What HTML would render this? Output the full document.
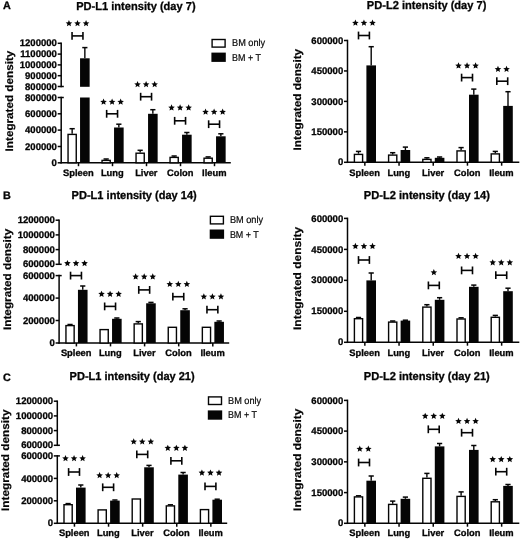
<!DOCTYPE html>
<html>
<head>
<meta charset="utf-8">
<title>PD-L1 / PD-L2 intensity</title>
<style>
html, body { margin: 0; padding: 0; background: #ffffff; }
body { width: 520px; height: 540px; overflow: hidden; font-family: "Liberation Sans", sans-serif; }
svg { display: block; font-family: "Liberation Sans", sans-serif; will-change: transform; text-rendering: geometricPrecision; }
</style>
</head>
<body>
<svg width="520" height="540" viewBox="0 0 520 540">
<rect x="0" y="0" width="520" height="540" fill="#ffffff"/>
<line x1="61.2" y1="42.55" x2="61.2" y2="87.25" stroke="#050505" stroke-width="1.5"/>
<line x1="57.7" y1="43.3" x2="61.2" y2="43.3" stroke="#050505" stroke-width="1.5"/>
<text x="56.9" y="46.4" font-size="9.55" font-weight="bold" text-anchor="end" fill="#050505" stroke="#050505" stroke-width="0.3">1200000</text>
<line x1="57.7" y1="54.1" x2="61.2" y2="54.1" stroke="#050505" stroke-width="1.5"/>
<text x="56.9" y="57.2" font-size="9.55" font-weight="bold" text-anchor="end" fill="#050505" stroke="#050505" stroke-width="0.3">1100000</text>
<line x1="57.7" y1="64.9" x2="61.2" y2="64.9" stroke="#050505" stroke-width="1.5"/>
<text x="56.9" y="68" font-size="9.55" font-weight="bold" text-anchor="end" fill="#050505" stroke="#050505" stroke-width="0.3">1000000</text>
<line x1="57.7" y1="75.7" x2="61.2" y2="75.7" stroke="#050505" stroke-width="1.5"/>
<text x="56.9" y="78.8" font-size="9.55" font-weight="bold" text-anchor="end" fill="#050505" stroke="#050505" stroke-width="0.3">900000</text>
<line x1="57.7" y1="86.5" x2="63.8" y2="86.5" stroke="#050505" stroke-width="1.5"/>
<text x="56.9" y="89.6" font-size="9.55" font-weight="bold" text-anchor="end" fill="#050505" stroke="#050505" stroke-width="0.3">800000</text>
<line x1="61.2" y1="96.75" x2="61.2" y2="163.55" stroke="#050505" stroke-width="1.5"/>
<line x1="57.7" y1="97.5" x2="63.8" y2="97.5" stroke="#050505" stroke-width="1.5"/>
<text x="56.9" y="100.6" font-size="9.55" font-weight="bold" text-anchor="end" fill="#050505" stroke="#050505" stroke-width="0.3">800000</text>
<line x1="57.7" y1="113.8" x2="61.2" y2="113.8" stroke="#050505" stroke-width="1.5"/>
<text x="56.9" y="116.9" font-size="9.55" font-weight="bold" text-anchor="end" fill="#050505" stroke="#050505" stroke-width="0.3">600000</text>
<line x1="57.7" y1="130.1" x2="61.2" y2="130.1" stroke="#050505" stroke-width="1.5"/>
<text x="56.9" y="133.2" font-size="9.55" font-weight="bold" text-anchor="end" fill="#050505" stroke="#050505" stroke-width="0.3">400000</text>
<line x1="57.7" y1="146.5" x2="61.2" y2="146.5" stroke="#050505" stroke-width="1.5"/>
<text x="56.9" y="149.6" font-size="9.55" font-weight="bold" text-anchor="end" fill="#050505" stroke="#050505" stroke-width="0.3">200000</text>
<line x1="57.7" y1="162.8" x2="61.2" y2="162.8" stroke="#050505" stroke-width="1.5"/>
<text x="56.9" y="165.9" font-size="9.55" font-weight="bold" text-anchor="end" fill="#050505" stroke="#050505" stroke-width="0.3">0</text>
<line x1="60.55" y1="162.8" x2="230.8" y2="162.8" stroke="#050505" stroke-width="1.5"/>
<line x1="78.5" y1="162.8" x2="78.5" y2="166.2" stroke="#050505" stroke-width="1.5"/>
<text x="78.3" y="176" font-size="9.35" font-weight="bold" text-anchor="middle" fill="#050505" stroke="#050505" stroke-width="0.3">Spleen</text>
<line x1="72.15" y1="128.7" x2="72.15" y2="133.7" stroke="#050505" stroke-width="1.4"/>
<line x1="69.55" y1="128.7" x2="74.75" y2="128.7" stroke="#050505" stroke-width="1.5"/>
<line x1="84.85" y1="47.6" x2="84.85" y2="58.3" stroke="#050505" stroke-width="1.4"/>
<line x1="82.25" y1="47.6" x2="87.45" y2="47.6" stroke="#050505" stroke-width="1.5"/>
<rect x="68.05" y="134.4" width="8.2" height="28.4" fill="#fff" stroke="#050505" stroke-width="1.4"/>
<rect x="80.05" y="97.5" width="9.6" height="65.3" fill="#050505"/>
<rect x="80.05" y="58.3" width="9.6" height="28.5" fill="#050505"/>
<polygon points="68.95,20.05 69.89,22.21 72.23,22.43 70.47,23.99 70.98,26.29 68.95,25.1 66.92,26.29 67.43,23.99 65.67,22.43 68.01,22.21" fill="#050505"/>
<polygon points="77.5,20.05 78.44,22.21 80.78,22.43 79.02,23.99 79.53,26.29 77.5,25.1 75.47,26.29 75.98,23.99 74.22,22.43 76.56,22.21" fill="#050505"/>
<polygon points="86.05,20.05 86.99,22.21 89.33,22.43 87.57,23.99 88.08,26.29 86.05,25.1 84.02,26.29 84.53,23.99 82.77,22.43 85.11,22.21" fill="#050505"/>
<line x1="72.05" y1="35.9" x2="82.95" y2="35.9" stroke="#050505" stroke-width="1.6"/>
<line x1="72.05" y1="32" x2="72.05" y2="39.8" stroke="#050505" stroke-width="1.6"/>
<line x1="82.95" y1="32" x2="82.95" y2="39.8" stroke="#050505" stroke-width="1.6"/>
<line x1="112.5" y1="162.8" x2="112.5" y2="166.2" stroke="#050505" stroke-width="1.5"/>
<text x="112.3" y="176" font-size="9.35" font-weight="bold" text-anchor="middle" fill="#050505" stroke="#050505" stroke-width="0.3">Lung</text>
<line x1="106.15" y1="159" x2="106.15" y2="159.7" stroke="#050505" stroke-width="1.4"/>
<line x1="103.55" y1="159" x2="108.75" y2="159" stroke="#050505" stroke-width="1.5"/>
<line x1="118.85" y1="124.2" x2="118.85" y2="127.5" stroke="#050505" stroke-width="1.4"/>
<line x1="116.25" y1="124.2" x2="121.45" y2="124.2" stroke="#050505" stroke-width="1.5"/>
<rect x="102.05" y="160.4" width="8.2" height="2.4" fill="#fff" stroke="#050505" stroke-width="1.4"/>
<rect x="114.05" y="127.5" width="9.6" height="35.3" fill="#050505"/>
<polygon points="103.55,98.55 104.49,100.71 106.83,100.93 105.07,102.49 105.58,104.79 103.55,103.6 101.52,104.79 102.03,102.49 100.27,100.93 102.61,100.71" fill="#050505"/>
<polygon points="112.1,98.55 113.04,100.71 115.38,100.93 113.62,102.49 114.13,104.79 112.1,103.6 110.07,104.79 110.58,102.49 108.82,100.93 111.16,100.71" fill="#050505"/>
<polygon points="120.65,98.55 121.59,100.71 123.93,100.93 122.17,102.49 122.68,104.79 120.65,103.6 118.62,104.79 119.13,102.49 117.37,100.93 119.71,100.71" fill="#050505"/>
<line x1="106.65" y1="113.8" x2="117.55" y2="113.8" stroke="#050505" stroke-width="1.6"/>
<line x1="106.65" y1="109.9" x2="106.65" y2="117.7" stroke="#050505" stroke-width="1.6"/>
<line x1="117.55" y1="109.9" x2="117.55" y2="117.7" stroke="#050505" stroke-width="1.6"/>
<line x1="146.5" y1="162.8" x2="146.5" y2="166.2" stroke="#050505" stroke-width="1.5"/>
<text x="146.3" y="176" font-size="9.35" font-weight="bold" text-anchor="middle" fill="#050505" stroke="#050505" stroke-width="0.3">Liver</text>
<line x1="140.15" y1="150.3" x2="140.15" y2="152.5" stroke="#050505" stroke-width="1.4"/>
<line x1="137.55" y1="150.3" x2="142.75" y2="150.3" stroke="#050505" stroke-width="1.5"/>
<line x1="152.85" y1="109.7" x2="152.85" y2="113.8" stroke="#050505" stroke-width="1.4"/>
<line x1="150.25" y1="109.7" x2="155.45" y2="109.7" stroke="#050505" stroke-width="1.5"/>
<rect x="136.05" y="153.2" width="8.2" height="9.6" fill="#fff" stroke="#050505" stroke-width="1.4"/>
<rect x="148.05" y="113.8" width="9.6" height="49" fill="#050505"/>
<polygon points="137.55,81.05 138.49,83.21 140.83,83.43 139.07,84.99 139.58,87.29 137.55,86.1 135.52,87.29 136.03,84.99 134.27,83.43 136.61,83.21" fill="#050505"/>
<polygon points="146.1,81.05 147.04,83.21 149.38,83.43 147.62,84.99 148.13,87.29 146.1,86.1 144.07,87.29 144.58,84.99 142.82,83.43 145.16,83.21" fill="#050505"/>
<polygon points="154.65,81.05 155.59,83.21 157.93,83.43 156.17,84.99 156.68,87.29 154.65,86.1 152.62,87.29 153.13,84.99 151.37,83.43 153.71,83.21" fill="#050505"/>
<line x1="140.65" y1="96.7" x2="151.55" y2="96.7" stroke="#050505" stroke-width="1.6"/>
<line x1="140.65" y1="92.8" x2="140.65" y2="100.6" stroke="#050505" stroke-width="1.6"/>
<line x1="151.55" y1="92.8" x2="151.55" y2="100.6" stroke="#050505" stroke-width="1.6"/>
<line x1="180.5" y1="162.8" x2="180.5" y2="166.2" stroke="#050505" stroke-width="1.5"/>
<text x="180.3" y="176" font-size="9.35" font-weight="bold" text-anchor="middle" fill="#050505" stroke="#050505" stroke-width="0.3">Colon</text>
<line x1="174.15" y1="156" x2="174.15" y2="156.7" stroke="#050505" stroke-width="1.4"/>
<line x1="171.55" y1="156" x2="176.75" y2="156" stroke="#050505" stroke-width="1.5"/>
<line x1="186.85" y1="132.5" x2="186.85" y2="134.7" stroke="#050505" stroke-width="1.4"/>
<line x1="184.25" y1="132.5" x2="189.45" y2="132.5" stroke="#050505" stroke-width="1.5"/>
<rect x="170.05" y="157.4" width="8.2" height="5.4" fill="#fff" stroke="#050505" stroke-width="1.4"/>
<rect x="182.05" y="134.7" width="9.6" height="28.1" fill="#050505"/>
<polygon points="171.55,104.35 172.49,106.51 174.83,106.73 173.07,108.29 173.58,110.59 171.55,109.4 169.52,110.59 170.03,108.29 168.27,106.73 170.61,106.51" fill="#050505"/>
<polygon points="180.1,104.35 181.04,106.51 183.38,106.73 181.62,108.29 182.13,110.59 180.1,109.4 178.07,110.59 178.58,108.29 176.82,106.73 179.16,106.51" fill="#050505"/>
<polygon points="188.65,104.35 189.59,106.51 191.93,106.73 190.17,108.29 190.68,110.59 188.65,109.4 186.62,110.59 187.13,108.29 185.37,106.73 187.71,106.51" fill="#050505"/>
<line x1="174.65" y1="120.8" x2="185.55" y2="120.8" stroke="#050505" stroke-width="1.6"/>
<line x1="174.65" y1="116.9" x2="174.65" y2="124.7" stroke="#050505" stroke-width="1.6"/>
<line x1="185.55" y1="116.9" x2="185.55" y2="124.7" stroke="#050505" stroke-width="1.6"/>
<line x1="214.5" y1="162.8" x2="214.5" y2="166.2" stroke="#050505" stroke-width="1.5"/>
<text x="214.3" y="176" font-size="9.35" font-weight="bold" text-anchor="middle" fill="#050505" stroke="#050505" stroke-width="0.3">Ileum</text>
<line x1="208.15" y1="156.9" x2="208.15" y2="157.5" stroke="#050505" stroke-width="1.4"/>
<line x1="205.55" y1="156.9" x2="210.75" y2="156.9" stroke="#050505" stroke-width="1.5"/>
<line x1="220.85" y1="133.8" x2="220.85" y2="136.3" stroke="#050505" stroke-width="1.4"/>
<line x1="218.25" y1="133.8" x2="223.45" y2="133.8" stroke="#050505" stroke-width="1.5"/>
<rect x="204.05" y="158.2" width="8.2" height="4.6" fill="#fff" stroke="#050505" stroke-width="1.4"/>
<rect x="216.05" y="136.3" width="9.6" height="26.5" fill="#050505"/>
<polygon points="205.55,108.55 206.49,110.71 208.83,110.93 207.07,112.49 207.58,114.79 205.55,113.6 203.52,114.79 204.03,112.49 202.27,110.93 204.61,110.71" fill="#050505"/>
<polygon points="214.1,108.55 215.04,110.71 217.38,110.93 215.62,112.49 216.13,114.79 214.1,113.6 212.07,114.79 212.58,112.49 210.82,110.93 213.16,110.71" fill="#050505"/>
<polygon points="222.65,108.55 223.59,110.71 225.93,110.93 224.17,112.49 224.68,114.79 222.65,113.6 220.62,114.79 221.13,112.49 219.37,110.93 221.71,110.71" fill="#050505"/>
<line x1="208.65" y1="124.2" x2="219.55" y2="124.2" stroke="#050505" stroke-width="1.6"/>
<line x1="208.65" y1="120.3" x2="208.65" y2="128.1" stroke="#050505" stroke-width="1.6"/>
<line x1="219.55" y1="120.3" x2="219.55" y2="128.1" stroke="#050505" stroke-width="1.6"/>
<text x="76.2" y="9.5" font-size="11.5" font-weight="bold" text-anchor="start" fill="#050505" stroke="#050505" stroke-width="0.3" textLength="119.4" lengthAdjust="spacingAndGlyphs">PD-L1 intensity (day 7)</text>
<text transform="translate(12.7 151.4) rotate(-90)" font-size="10.9" font-weight="bold" stroke="#050505" stroke-width="0.2" fill="#050505" textLength="100.7" lengthAdjust="spacingAndGlyphs">Integrated density</text>
<text x="3" y="9.4" font-size="10.8" font-weight="bold" text-anchor="start" fill="#050505" stroke="#050505" stroke-width="0.3">A</text>
<rect x="212.1" y="39.5" width="13" height="7.6" fill="#fff" stroke="#050505" stroke-width="1.4"/>
<rect x="211.4" y="52.6" width="14.4" height="9.3" fill="#050505"/>
<text x="232" y="46.3" font-size="10" font-weight="normal" text-anchor="start" fill="#050505" textLength="33.2" lengthAdjust="spacingAndGlyphs" stroke="#050505" stroke-width="0.2">BM only</text>
<text x="232" y="60.5" font-size="10" font-weight="normal" text-anchor="start" fill="#050505" textLength="28.9" lengthAdjust="spacingAndGlyphs" stroke="#050505" stroke-width="0.2">BM + T</text>
<line x1="347.5" y1="39.75" x2="347.5" y2="163.05" stroke="#050505" stroke-width="1.5"/>
<line x1="344" y1="40.5" x2="347.5" y2="40.5" stroke="#050505" stroke-width="1.5"/>
<text x="343.2" y="43.6" font-size="9.55" font-weight="bold" text-anchor="end" fill="#050505" stroke="#050505" stroke-width="0.3">600000</text>
<line x1="344" y1="70.95" x2="347.5" y2="70.95" stroke="#050505" stroke-width="1.5"/>
<text x="343.2" y="74.05" font-size="9.55" font-weight="bold" text-anchor="end" fill="#050505" stroke="#050505" stroke-width="0.3">450000</text>
<line x1="344" y1="101.4" x2="347.5" y2="101.4" stroke="#050505" stroke-width="1.5"/>
<text x="343.2" y="104.5" font-size="9.55" font-weight="bold" text-anchor="end" fill="#050505" stroke="#050505" stroke-width="0.3">300000</text>
<line x1="344" y1="131.85" x2="347.5" y2="131.85" stroke="#050505" stroke-width="1.5"/>
<text x="343.2" y="134.95" font-size="9.55" font-weight="bold" text-anchor="end" fill="#050505" stroke="#050505" stroke-width="0.3">150000</text>
<line x1="344" y1="162.3" x2="347.5" y2="162.3" stroke="#050505" stroke-width="1.5"/>
<text x="343.2" y="165.4" font-size="9.55" font-weight="bold" text-anchor="end" fill="#050505" stroke="#050505" stroke-width="0.3">0</text>
<line x1="346.85" y1="162.3" x2="519.3" y2="162.3" stroke="#050505" stroke-width="1.5"/>
<line x1="364.85" y1="162.3" x2="364.85" y2="165.7" stroke="#050505" stroke-width="1.5"/>
<text x="364.65" y="176" font-size="9.35" font-weight="bold" text-anchor="middle" fill="#050505" stroke="#050505" stroke-width="0.3">Spleen</text>
<line x1="358.5" y1="151.4" x2="358.5" y2="153.7" stroke="#050505" stroke-width="1.4"/>
<line x1="355.9" y1="151.4" x2="361.1" y2="151.4" stroke="#050505" stroke-width="1.5"/>
<line x1="371.2" y1="46.7" x2="371.2" y2="65.4" stroke="#050505" stroke-width="1.4"/>
<line x1="368.6" y1="46.7" x2="373.8" y2="46.7" stroke="#050505" stroke-width="1.5"/>
<rect x="354.4" y="154.4" width="8.2" height="7.9" fill="#fff" stroke="#050505" stroke-width="1.4"/>
<rect x="366.4" y="65.4" width="9.6" height="96.9" fill="#050505"/>
<polygon points="355.4,19.55 356.34,21.71 358.68,21.93 356.92,23.49 357.43,25.79 355.4,24.6 353.37,25.79 353.88,23.49 352.12,21.93 354.46,21.71" fill="#050505"/>
<polygon points="363.95,19.55 364.89,21.71 367.23,21.93 365.47,23.49 365.98,25.79 363.95,24.6 361.92,25.79 362.43,23.49 360.67,21.93 363.01,21.71" fill="#050505"/>
<polygon points="372.5,19.55 373.44,21.71 375.78,21.93 374.02,23.49 374.53,25.79 372.5,24.6 370.47,25.79 370.98,23.49 369.22,21.93 371.56,21.71" fill="#050505"/>
<line x1="358.5" y1="35.5" x2="369.4" y2="35.5" stroke="#050505" stroke-width="1.6"/>
<line x1="358.5" y1="31.6" x2="358.5" y2="39.4" stroke="#050505" stroke-width="1.6"/>
<line x1="369.4" y1="31.6" x2="369.4" y2="39.4" stroke="#050505" stroke-width="1.6"/>
<line x1="399.05" y1="162.3" x2="399.05" y2="165.7" stroke="#050505" stroke-width="1.5"/>
<text x="398.85" y="176" font-size="9.35" font-weight="bold" text-anchor="middle" fill="#050505" stroke="#050505" stroke-width="0.3">Lung</text>
<line x1="392.7" y1="152.7" x2="392.7" y2="154.4" stroke="#050505" stroke-width="1.4"/>
<line x1="390.1" y1="152.7" x2="395.3" y2="152.7" stroke="#050505" stroke-width="1.5"/>
<line x1="405.4" y1="147.1" x2="405.4" y2="150" stroke="#050505" stroke-width="1.4"/>
<line x1="402.8" y1="147.1" x2="408" y2="147.1" stroke="#050505" stroke-width="1.5"/>
<rect x="388.6" y="155.1" width="8.2" height="7.2" fill="#fff" stroke="#050505" stroke-width="1.4"/>
<rect x="400.6" y="150" width="9.6" height="12.3" fill="#050505"/>
<line x1="433.25" y1="162.3" x2="433.25" y2="165.7" stroke="#050505" stroke-width="1.5"/>
<text x="433.05" y="176" font-size="9.35" font-weight="bold" text-anchor="middle" fill="#050505" stroke="#050505" stroke-width="0.3">Liver</text>
<line x1="426.9" y1="157.8" x2="426.9" y2="158.7" stroke="#050505" stroke-width="1.4"/>
<line x1="424.3" y1="157.8" x2="429.5" y2="157.8" stroke="#050505" stroke-width="1.5"/>
<line x1="439.6" y1="157" x2="439.6" y2="157.8" stroke="#050505" stroke-width="1.4"/>
<line x1="437" y1="157" x2="442.2" y2="157" stroke="#050505" stroke-width="1.5"/>
<rect x="422.8" y="159.4" width="8.2" height="2.9" fill="#fff" stroke="#050505" stroke-width="1.4"/>
<rect x="434.8" y="157.8" width="9.6" height="4.5" fill="#050505"/>
<line x1="467.45" y1="162.3" x2="467.45" y2="165.7" stroke="#050505" stroke-width="1.5"/>
<text x="467.25" y="176" font-size="9.35" font-weight="bold" text-anchor="middle" fill="#050505" stroke="#050505" stroke-width="0.3">Colon</text>
<line x1="461.1" y1="147.6" x2="461.1" y2="150.2" stroke="#050505" stroke-width="1.4"/>
<line x1="458.5" y1="147.6" x2="463.7" y2="147.6" stroke="#050505" stroke-width="1.5"/>
<line x1="473.8" y1="89.1" x2="473.8" y2="94.7" stroke="#050505" stroke-width="1.4"/>
<line x1="471.2" y1="89.1" x2="476.4" y2="89.1" stroke="#050505" stroke-width="1.5"/>
<rect x="457" y="150.9" width="8.2" height="11.4" fill="#fff" stroke="#050505" stroke-width="1.4"/>
<rect x="469" y="94.7" width="9.6" height="67.6" fill="#050505"/>
<polygon points="458.5,62.35 459.44,64.51 461.78,64.73 460.02,66.29 460.53,68.59 458.5,67.4 456.47,68.59 456.98,66.29 455.22,64.73 457.56,64.51" fill="#050505"/>
<polygon points="467.05,62.35 467.99,64.51 470.33,64.73 468.57,66.29 469.08,68.59 467.05,67.4 465.02,68.59 465.53,66.29 463.77,64.73 466.11,64.51" fill="#050505"/>
<polygon points="475.6,62.35 476.54,64.51 478.88,64.73 477.12,66.29 477.63,68.59 475.6,67.4 473.57,68.59 474.08,66.29 472.32,64.73 474.66,64.51" fill="#050505"/>
<line x1="461.6" y1="77.6" x2="472.5" y2="77.6" stroke="#050505" stroke-width="1.6"/>
<line x1="461.6" y1="73.7" x2="461.6" y2="81.5" stroke="#050505" stroke-width="1.6"/>
<line x1="472.5" y1="73.7" x2="472.5" y2="81.5" stroke="#050505" stroke-width="1.6"/>
<line x1="501.65" y1="162.3" x2="501.65" y2="165.7" stroke="#050505" stroke-width="1.5"/>
<text x="501.45" y="176" font-size="9.35" font-weight="bold" text-anchor="middle" fill="#050505" stroke="#050505" stroke-width="0.3">Ileum</text>
<line x1="495.3" y1="151.4" x2="495.3" y2="153.2" stroke="#050505" stroke-width="1.4"/>
<line x1="492.7" y1="151.4" x2="497.9" y2="151.4" stroke="#050505" stroke-width="1.5"/>
<line x1="508" y1="91.7" x2="508" y2="105.9" stroke="#050505" stroke-width="1.4"/>
<line x1="505.4" y1="91.7" x2="510.6" y2="91.7" stroke="#050505" stroke-width="1.5"/>
<rect x="491.2" y="153.9" width="8.2" height="8.4" fill="#fff" stroke="#050505" stroke-width="1.4"/>
<rect x="503.2" y="105.9" width="9.6" height="56.4" fill="#050505"/>
<polygon points="497.98,65.75 498.92,67.91 501.26,68.13 499.5,69.69 500,71.99 497.98,70.8 495.95,71.99 496.45,69.69 494.69,68.13 497.03,67.91" fill="#050505"/>
<polygon points="506.53,65.75 507.47,67.91 509.81,68.13 508.05,69.69 508.55,71.99 506.53,70.8 504.5,71.99 505,69.69 503.24,68.13 505.58,67.91" fill="#050505"/>
<line x1="496.8" y1="81.2" x2="507.7" y2="81.2" stroke="#050505" stroke-width="1.6"/>
<line x1="496.8" y1="77.3" x2="496.8" y2="85.1" stroke="#050505" stroke-width="1.6"/>
<line x1="507.7" y1="77.3" x2="507.7" y2="85.1" stroke="#050505" stroke-width="1.6"/>
<text x="366.8" y="9.4" font-size="11.5" font-weight="bold" text-anchor="start" fill="#050505" stroke="#050505" stroke-width="0.3" textLength="119.6" lengthAdjust="spacingAndGlyphs">PD-L2 intensity (day 7)</text>
<text transform="translate(300.6 150.5) rotate(-90)" font-size="10.9" font-weight="bold" stroke="#050505" stroke-width="0.2" fill="#050505" textLength="101.7" lengthAdjust="spacingAndGlyphs">Integrated density</text>
<line x1="59.1" y1="219.45" x2="59.1" y2="265.05" stroke="#050505" stroke-width="1.5"/>
<line x1="55.6" y1="220.2" x2="59.1" y2="220.2" stroke="#050505" stroke-width="1.5"/>
<text x="54.8" y="223.3" font-size="9.55" font-weight="bold" text-anchor="end" fill="#050505" stroke="#050505" stroke-width="0.3">1200000</text>
<line x1="55.6" y1="234.9" x2="59.1" y2="234.9" stroke="#050505" stroke-width="1.5"/>
<text x="54.8" y="238" font-size="9.55" font-weight="bold" text-anchor="end" fill="#050505" stroke="#050505" stroke-width="0.3">1000000</text>
<line x1="55.6" y1="249.6" x2="59.1" y2="249.6" stroke="#050505" stroke-width="1.5"/>
<text x="54.8" y="252.7" font-size="9.55" font-weight="bold" text-anchor="end" fill="#050505" stroke="#050505" stroke-width="0.3">800000</text>
<line x1="55.6" y1="264.3" x2="61.7" y2="264.3" stroke="#050505" stroke-width="1.5"/>
<text x="54.8" y="267.4" font-size="9.55" font-weight="bold" text-anchor="end" fill="#050505" stroke="#050505" stroke-width="0.3">600000</text>
<line x1="59.1" y1="274.85" x2="59.1" y2="343.75" stroke="#050505" stroke-width="1.5"/>
<line x1="55.6" y1="275.6" x2="61.7" y2="275.6" stroke="#050505" stroke-width="1.5"/>
<text x="54.8" y="278.7" font-size="9.55" font-weight="bold" text-anchor="end" fill="#050505" stroke="#050505" stroke-width="0.3">600000</text>
<line x1="55.6" y1="298.1" x2="59.1" y2="298.1" stroke="#050505" stroke-width="1.5"/>
<text x="54.8" y="301.2" font-size="9.55" font-weight="bold" text-anchor="end" fill="#050505" stroke="#050505" stroke-width="0.3">400000</text>
<line x1="55.6" y1="320.5" x2="59.1" y2="320.5" stroke="#050505" stroke-width="1.5"/>
<text x="54.8" y="323.6" font-size="9.55" font-weight="bold" text-anchor="end" fill="#050505" stroke="#050505" stroke-width="0.3">200000</text>
<line x1="55.6" y1="343" x2="59.1" y2="343" stroke="#050505" stroke-width="1.5"/>
<text x="54.8" y="346.1" font-size="9.55" font-weight="bold" text-anchor="end" fill="#050505" stroke="#050505" stroke-width="0.3">0</text>
<line x1="58.45" y1="343" x2="229.2" y2="343" stroke="#050505" stroke-width="1.5"/>
<line x1="76.4" y1="343" x2="76.4" y2="346.4" stroke="#050505" stroke-width="1.5"/>
<text x="76.2" y="356" font-size="9.35" font-weight="bold" text-anchor="middle" fill="#050505" stroke="#050505" stroke-width="0.3">Spleen</text>
<line x1="70.05" y1="324.5" x2="70.05" y2="324.9" stroke="#050505" stroke-width="1.4"/>
<line x1="67.45" y1="324.5" x2="72.65" y2="324.5" stroke="#050505" stroke-width="1.5"/>
<line x1="82.75" y1="286" x2="82.75" y2="289.8" stroke="#050505" stroke-width="1.4"/>
<line x1="80.15" y1="286" x2="85.35" y2="286" stroke="#050505" stroke-width="1.5"/>
<rect x="65.95" y="325.6" width="8.2" height="17.4" fill="#fff" stroke="#050505" stroke-width="1.4"/>
<rect x="77.95" y="289.8" width="9.6" height="53.2" fill="#050505"/>
<polygon points="67.45,259.95 68.39,262.11 70.73,262.33 68.97,263.89 69.48,266.19 67.45,265 65.42,266.19 65.93,263.89 64.17,262.33 66.51,262.11" fill="#050505"/>
<polygon points="76,259.95 76.94,262.11 79.28,262.33 77.52,263.89 78.03,266.19 76,265 73.97,266.19 74.48,263.89 72.72,262.33 75.06,262.11" fill="#050505"/>
<polygon points="84.55,259.95 85.49,262.11 87.83,262.33 86.07,263.89 86.58,266.19 84.55,265 82.52,266.19 83.03,263.89 81.27,262.33 83.61,262.11" fill="#050505"/>
<line x1="70.55" y1="275.6" x2="81.45" y2="275.6" stroke="#050505" stroke-width="1.6"/>
<line x1="70.55" y1="271.7" x2="70.55" y2="279.5" stroke="#050505" stroke-width="1.6"/>
<line x1="81.45" y1="271.7" x2="81.45" y2="279.5" stroke="#050505" stroke-width="1.6"/>
<line x1="110.5" y1="343" x2="110.5" y2="346.4" stroke="#050505" stroke-width="1.5"/>
<text x="110.3" y="356" font-size="9.35" font-weight="bold" text-anchor="middle" fill="#050505" stroke="#050505" stroke-width="0.3">Lung</text>
<line x1="116.85" y1="318" x2="116.85" y2="318.8" stroke="#050505" stroke-width="1.4"/>
<line x1="114.25" y1="318" x2="119.45" y2="318" stroke="#050505" stroke-width="1.5"/>
<rect x="100.05" y="329.6" width="8.2" height="13.4" fill="#fff" stroke="#050505" stroke-width="1.4"/>
<rect x="112.05" y="318.8" width="9.6" height="24.2" fill="#050505"/>
<polygon points="101.55,290.65 102.49,292.81 104.83,293.03 103.07,294.59 103.58,296.89 101.55,295.7 99.52,296.89 100.03,294.59 98.27,293.03 100.61,292.81" fill="#050505"/>
<polygon points="110.1,290.65 111.04,292.81 113.38,293.03 111.62,294.59 112.13,296.89 110.1,295.7 108.07,296.89 108.58,294.59 106.82,293.03 109.16,292.81" fill="#050505"/>
<polygon points="118.65,290.65 119.59,292.81 121.93,293.03 120.17,294.59 120.68,296.89 118.65,295.7 116.62,296.89 117.13,294.59 115.37,293.03 117.71,292.81" fill="#050505"/>
<line x1="104.65" y1="306.4" x2="115.55" y2="306.4" stroke="#050505" stroke-width="1.6"/>
<line x1="104.65" y1="302.5" x2="104.65" y2="310.3" stroke="#050505" stroke-width="1.6"/>
<line x1="115.55" y1="302.5" x2="115.55" y2="310.3" stroke="#050505" stroke-width="1.6"/>
<line x1="144.6" y1="343" x2="144.6" y2="346.4" stroke="#050505" stroke-width="1.5"/>
<text x="144.4" y="356" font-size="9.35" font-weight="bold" text-anchor="middle" fill="#050505" stroke="#050505" stroke-width="0.3">Liver</text>
<line x1="138.25" y1="321.6" x2="138.25" y2="323.2" stroke="#050505" stroke-width="1.4"/>
<line x1="135.65" y1="321.6" x2="140.85" y2="321.6" stroke="#050505" stroke-width="1.5"/>
<line x1="150.95" y1="302.4" x2="150.95" y2="303.3" stroke="#050505" stroke-width="1.4"/>
<line x1="148.35" y1="302.4" x2="153.55" y2="302.4" stroke="#050505" stroke-width="1.5"/>
<rect x="134.15" y="323.9" width="8.2" height="19.1" fill="#fff" stroke="#050505" stroke-width="1.4"/>
<rect x="146.15" y="303.3" width="9.6" height="39.7" fill="#050505"/>
<polygon points="135.65,273.35 136.59,275.51 138.93,275.73 137.17,277.29 137.68,279.59 135.65,278.4 133.62,279.59 134.13,277.29 132.37,275.73 134.71,275.51" fill="#050505"/>
<polygon points="144.2,273.35 145.14,275.51 147.48,275.73 145.72,277.29 146.23,279.59 144.2,278.4 142.17,279.59 142.68,277.29 140.92,275.73 143.26,275.51" fill="#050505"/>
<polygon points="152.75,273.35 153.69,275.51 156.03,275.73 154.27,277.29 154.78,279.59 152.75,278.4 150.72,279.59 151.23,277.29 149.47,275.73 151.81,275.51" fill="#050505"/>
<line x1="138.75" y1="289.9" x2="149.65" y2="289.9" stroke="#050505" stroke-width="1.6"/>
<line x1="138.75" y1="286" x2="138.75" y2="293.8" stroke="#050505" stroke-width="1.6"/>
<line x1="149.65" y1="286" x2="149.65" y2="293.8" stroke="#050505" stroke-width="1.6"/>
<line x1="178.7" y1="343" x2="178.7" y2="346.4" stroke="#050505" stroke-width="1.5"/>
<text x="178.5" y="356" font-size="9.35" font-weight="bold" text-anchor="middle" fill="#050505" stroke="#050505" stroke-width="0.3">Colon</text>
<line x1="185.05" y1="308.8" x2="185.05" y2="310.2" stroke="#050505" stroke-width="1.4"/>
<line x1="182.45" y1="308.8" x2="187.65" y2="308.8" stroke="#050505" stroke-width="1.5"/>
<rect x="168.25" y="327.3" width="8.2" height="15.7" fill="#fff" stroke="#050505" stroke-width="1.4"/>
<rect x="180.25" y="310.2" width="9.6" height="32.8" fill="#050505"/>
<polygon points="169.75,280.75 170.69,282.91 173.03,283.13 171.27,284.69 171.78,286.99 169.75,285.8 167.72,286.99 168.23,284.69 166.47,283.13 168.81,282.91" fill="#050505"/>
<polygon points="178.3,280.75 179.24,282.91 181.58,283.13 179.82,284.69 180.33,286.99 178.3,285.8 176.27,286.99 176.78,284.69 175.02,283.13 177.36,282.91" fill="#050505"/>
<polygon points="186.85,280.75 187.79,282.91 190.13,283.13 188.37,284.69 188.88,286.99 186.85,285.8 184.82,286.99 185.33,284.69 183.57,283.13 185.91,282.91" fill="#050505"/>
<line x1="172.85" y1="296.7" x2="183.75" y2="296.7" stroke="#050505" stroke-width="1.6"/>
<line x1="172.85" y1="292.8" x2="172.85" y2="300.6" stroke="#050505" stroke-width="1.6"/>
<line x1="183.75" y1="292.8" x2="183.75" y2="300.6" stroke="#050505" stroke-width="1.6"/>
<line x1="212.8" y1="343" x2="212.8" y2="346.4" stroke="#050505" stroke-width="1.5"/>
<text x="212.6" y="356" font-size="9.35" font-weight="bold" text-anchor="middle" fill="#050505" stroke="#050505" stroke-width="0.3">Ileum</text>
<line x1="219.15" y1="321" x2="219.15" y2="321.8" stroke="#050505" stroke-width="1.4"/>
<line x1="216.55" y1="321" x2="221.75" y2="321" stroke="#050505" stroke-width="1.5"/>
<rect x="202.35" y="327.3" width="8.2" height="15.7" fill="#fff" stroke="#050505" stroke-width="1.4"/>
<rect x="214.35" y="321.8" width="9.6" height="21.2" fill="#050505"/>
<polygon points="203.85,293.25 204.79,295.41 207.13,295.63 205.37,297.19 205.88,299.49 203.85,298.3 201.82,299.49 202.33,297.19 200.57,295.63 202.91,295.41" fill="#050505"/>
<polygon points="212.4,293.25 213.34,295.41 215.68,295.63 213.92,297.19 214.43,299.49 212.4,298.3 210.37,299.49 210.88,297.19 209.12,295.63 211.46,295.41" fill="#050505"/>
<polygon points="220.95,293.25 221.89,295.41 224.23,295.63 222.47,297.19 222.98,299.49 220.95,298.3 218.92,299.49 219.43,297.19 217.67,295.63 220.01,295.41" fill="#050505"/>
<line x1="206.95" y1="309.7" x2="217.85" y2="309.7" stroke="#050505" stroke-width="1.6"/>
<line x1="206.95" y1="305.8" x2="206.95" y2="313.6" stroke="#050505" stroke-width="1.6"/>
<line x1="217.85" y1="305.8" x2="217.85" y2="313.6" stroke="#050505" stroke-width="1.6"/>
<text x="71.6" y="199.4" font-size="11.5" font-weight="bold" text-anchor="start" fill="#050505" stroke="#050505" stroke-width="0.3" textLength="125.2" lengthAdjust="spacingAndGlyphs">PD-L1 intensity (day 14)</text>
<text transform="translate(10.7 330) rotate(-90)" font-size="10.9" font-weight="bold" stroke="#050505" stroke-width="0.2" fill="#050505" textLength="101.2" lengthAdjust="spacingAndGlyphs">Integrated density</text>
<text x="3.1" y="199.4" font-size="10.8" font-weight="bold" text-anchor="start" fill="#050505" stroke="#050505" stroke-width="0.3">B</text>
<rect x="210.4" y="216.3" width="13" height="7.6" fill="#fff" stroke="#050505" stroke-width="1.4"/>
<rect x="209.7" y="229.5" width="14.4" height="9.3" fill="#050505"/>
<text x="229.9" y="223.3" font-size="10" font-weight="normal" text-anchor="start" fill="#050505" textLength="33.2" lengthAdjust="spacingAndGlyphs" stroke="#050505" stroke-width="0.2">BM only</text>
<text x="229.9" y="238.1" font-size="10" font-weight="normal" text-anchor="start" fill="#050505" textLength="28.9" lengthAdjust="spacingAndGlyphs" stroke="#050505" stroke-width="0.2">BM + T</text>
<line x1="347.5" y1="217.65" x2="347.5" y2="343.05" stroke="#050505" stroke-width="1.5"/>
<line x1="344" y1="218.4" x2="347.5" y2="218.4" stroke="#050505" stroke-width="1.5"/>
<text x="343.2" y="221.5" font-size="9.55" font-weight="bold" text-anchor="end" fill="#050505" stroke="#050505" stroke-width="0.3">600000</text>
<line x1="344" y1="249.4" x2="347.5" y2="249.4" stroke="#050505" stroke-width="1.5"/>
<text x="343.2" y="252.5" font-size="9.55" font-weight="bold" text-anchor="end" fill="#050505" stroke="#050505" stroke-width="0.3">450000</text>
<line x1="344" y1="280.35" x2="347.5" y2="280.35" stroke="#050505" stroke-width="1.5"/>
<text x="343.2" y="283.45" font-size="9.55" font-weight="bold" text-anchor="end" fill="#050505" stroke="#050505" stroke-width="0.3">300000</text>
<line x1="344" y1="311.3" x2="347.5" y2="311.3" stroke="#050505" stroke-width="1.5"/>
<text x="343.2" y="314.4" font-size="9.55" font-weight="bold" text-anchor="end" fill="#050505" stroke="#050505" stroke-width="0.3">150000</text>
<line x1="344" y1="342.3" x2="347.5" y2="342.3" stroke="#050505" stroke-width="1.5"/>
<text x="343.2" y="345.4" font-size="9.55" font-weight="bold" text-anchor="end" fill="#050505" stroke="#050505" stroke-width="0.3">0</text>
<line x1="346.85" y1="342.3" x2="519.3" y2="342.3" stroke="#050505" stroke-width="1.5"/>
<line x1="364.85" y1="342.3" x2="364.85" y2="345.7" stroke="#050505" stroke-width="1.5"/>
<text x="364.65" y="356" font-size="9.35" font-weight="bold" text-anchor="middle" fill="#050505" stroke="#050505" stroke-width="0.3">Spleen</text>
<line x1="358.5" y1="317.5" x2="358.5" y2="318" stroke="#050505" stroke-width="1.4"/>
<line x1="355.9" y1="317.5" x2="361.1" y2="317.5" stroke="#050505" stroke-width="1.5"/>
<line x1="371.2" y1="273" x2="371.2" y2="280.4" stroke="#050505" stroke-width="1.4"/>
<line x1="368.6" y1="273" x2="373.8" y2="273" stroke="#050505" stroke-width="1.5"/>
<rect x="354.4" y="318.7" width="8.2" height="23.6" fill="#fff" stroke="#050505" stroke-width="1.4"/>
<rect x="366.4" y="280.4" width="9.6" height="61.9" fill="#050505"/>
<polygon points="355.4,242.85 356.34,245.01 358.68,245.23 356.92,246.79 357.43,249.09 355.4,247.9 353.37,249.09 353.88,246.79 352.12,245.23 354.46,245.01" fill="#050505"/>
<polygon points="363.95,242.85 364.89,245.01 367.23,245.23 365.47,246.79 365.98,249.09 363.95,247.9 361.92,249.09 362.43,246.79 360.67,245.23 363.01,245.01" fill="#050505"/>
<polygon points="372.5,242.85 373.44,245.01 375.78,245.23 374.02,246.79 374.53,249.09 372.5,247.9 370.47,249.09 370.98,246.79 369.22,245.23 371.56,245.01" fill="#050505"/>
<line x1="358.5" y1="260" x2="369.4" y2="260" stroke="#050505" stroke-width="1.6"/>
<line x1="358.5" y1="256.1" x2="358.5" y2="263.9" stroke="#050505" stroke-width="1.6"/>
<line x1="369.4" y1="256.1" x2="369.4" y2="263.9" stroke="#050505" stroke-width="1.6"/>
<line x1="399.05" y1="342.3" x2="399.05" y2="345.7" stroke="#050505" stroke-width="1.5"/>
<text x="398.85" y="356" font-size="9.35" font-weight="bold" text-anchor="middle" fill="#050505" stroke="#050505" stroke-width="0.3">Lung</text>
<line x1="392.7" y1="321" x2="392.7" y2="321.4" stroke="#050505" stroke-width="1.4"/>
<line x1="390.1" y1="321" x2="395.3" y2="321" stroke="#050505" stroke-width="1.5"/>
<line x1="405.4" y1="320.2" x2="405.4" y2="320.6" stroke="#050505" stroke-width="1.4"/>
<line x1="402.8" y1="320.2" x2="408" y2="320.2" stroke="#050505" stroke-width="1.5"/>
<rect x="388.6" y="322.1" width="8.2" height="20.2" fill="#fff" stroke="#050505" stroke-width="1.4"/>
<rect x="400.6" y="320.6" width="9.6" height="21.7" fill="#050505"/>
<line x1="433.25" y1="342.3" x2="433.25" y2="345.7" stroke="#050505" stroke-width="1.5"/>
<text x="433.05" y="356" font-size="9.35" font-weight="bold" text-anchor="middle" fill="#050505" stroke="#050505" stroke-width="0.3">Liver</text>
<line x1="426.9" y1="304.7" x2="426.9" y2="306.4" stroke="#050505" stroke-width="1.4"/>
<line x1="424.3" y1="304.7" x2="429.5" y2="304.7" stroke="#050505" stroke-width="1.5"/>
<line x1="439.6" y1="297.7" x2="439.6" y2="299.8" stroke="#050505" stroke-width="1.4"/>
<line x1="437" y1="297.7" x2="442.2" y2="297.7" stroke="#050505" stroke-width="1.5"/>
<rect x="422.8" y="307.1" width="8.2" height="35.2" fill="#fff" stroke="#050505" stroke-width="1.4"/>
<rect x="434.8" y="299.8" width="9.6" height="42.5" fill="#050505"/>
<polygon points="433.85,269.05 434.79,271.21 437.13,271.43 435.37,272.99 435.88,275.29 433.85,274.1 431.82,275.29 432.33,272.99 430.57,271.43 432.91,271.21" fill="#050505"/>
<line x1="428.4" y1="285.4" x2="439.3" y2="285.4" stroke="#050505" stroke-width="1.6"/>
<line x1="428.4" y1="281.5" x2="428.4" y2="289.3" stroke="#050505" stroke-width="1.6"/>
<line x1="439.3" y1="281.5" x2="439.3" y2="289.3" stroke="#050505" stroke-width="1.6"/>
<line x1="467.45" y1="342.3" x2="467.45" y2="345.7" stroke="#050505" stroke-width="1.5"/>
<text x="467.25" y="356" font-size="9.35" font-weight="bold" text-anchor="middle" fill="#050505" stroke="#050505" stroke-width="0.3">Colon</text>
<line x1="461.1" y1="317.8" x2="461.1" y2="318.3" stroke="#050505" stroke-width="1.4"/>
<line x1="458.5" y1="317.8" x2="463.7" y2="317.8" stroke="#050505" stroke-width="1.5"/>
<line x1="473.8" y1="285.1" x2="473.8" y2="286.8" stroke="#050505" stroke-width="1.4"/>
<line x1="471.2" y1="285.1" x2="476.4" y2="285.1" stroke="#050505" stroke-width="1.5"/>
<rect x="457" y="319" width="8.2" height="23.3" fill="#fff" stroke="#050505" stroke-width="1.4"/>
<rect x="469" y="286.8" width="9.6" height="55.5" fill="#050505"/>
<polygon points="458.5,252.75 459.44,254.91 461.78,255.13 460.02,256.69 460.53,258.99 458.5,257.8 456.47,258.99 456.98,256.69 455.22,255.13 457.56,254.91" fill="#050505"/>
<polygon points="467.05,252.75 467.99,254.91 470.33,255.13 468.57,256.69 469.08,258.99 467.05,257.8 465.02,258.99 465.53,256.69 463.77,255.13 466.11,254.91" fill="#050505"/>
<polygon points="475.6,252.75 476.54,254.91 478.88,255.13 477.12,256.69 477.63,258.99 475.6,257.8 473.57,258.99 474.08,256.69 472.32,255.13 474.66,254.91" fill="#050505"/>
<line x1="461.6" y1="270.4" x2="472.5" y2="270.4" stroke="#050505" stroke-width="1.6"/>
<line x1="461.6" y1="266.5" x2="461.6" y2="274.3" stroke="#050505" stroke-width="1.6"/>
<line x1="472.5" y1="266.5" x2="472.5" y2="274.3" stroke="#050505" stroke-width="1.6"/>
<line x1="501.65" y1="342.3" x2="501.65" y2="345.7" stroke="#050505" stroke-width="1.5"/>
<text x="501.45" y="356" font-size="9.35" font-weight="bold" text-anchor="middle" fill="#050505" stroke="#050505" stroke-width="0.3">Ileum</text>
<line x1="495.3" y1="315.4" x2="495.3" y2="316.6" stroke="#050505" stroke-width="1.4"/>
<line x1="492.7" y1="315.4" x2="497.9" y2="315.4" stroke="#050505" stroke-width="1.5"/>
<line x1="508" y1="288.2" x2="508" y2="291.2" stroke="#050505" stroke-width="1.4"/>
<line x1="505.4" y1="288.2" x2="510.6" y2="288.2" stroke="#050505" stroke-width="1.5"/>
<rect x="491.2" y="317.3" width="8.2" height="25" fill="#fff" stroke="#050505" stroke-width="1.4"/>
<rect x="503.2" y="291.2" width="9.6" height="51.1" fill="#050505"/>
<polygon points="492.7,259.15 493.64,261.31 495.98,261.53 494.22,263.09 494.73,265.39 492.7,264.2 490.67,265.39 491.18,263.09 489.42,261.53 491.76,261.31" fill="#050505"/>
<polygon points="501.25,259.15 502.19,261.31 504.53,261.53 502.77,263.09 503.28,265.39 501.25,264.2 499.22,265.39 499.73,263.09 497.97,261.53 500.31,261.31" fill="#050505"/>
<polygon points="509.8,259.15 510.74,261.31 513.08,261.53 511.32,263.09 511.83,265.39 509.8,264.2 507.77,265.39 508.28,263.09 506.52,261.53 508.86,261.31" fill="#050505"/>
<line x1="495.8" y1="275.2" x2="506.7" y2="275.2" stroke="#050505" stroke-width="1.6"/>
<line x1="495.8" y1="271.3" x2="495.8" y2="279.1" stroke="#050505" stroke-width="1.6"/>
<line x1="506.7" y1="271.3" x2="506.7" y2="279.1" stroke="#050505" stroke-width="1.6"/>
<text x="363.8" y="199.4" font-size="11.5" font-weight="bold" text-anchor="start" fill="#050505" stroke="#050505" stroke-width="0.3" textLength="126.1" lengthAdjust="spacingAndGlyphs">PD-L2 intensity (day 14)</text>
<text transform="translate(300.6 330) rotate(-90)" font-size="10.9" font-weight="bold" stroke="#050505" stroke-width="0.2" fill="#050505" textLength="103.2" lengthAdjust="spacingAndGlyphs">Integrated density</text>
<line x1="57.3" y1="400.45" x2="57.3" y2="446.05" stroke="#050505" stroke-width="1.5"/>
<line x1="53.8" y1="401.2" x2="57.3" y2="401.2" stroke="#050505" stroke-width="1.5"/>
<text x="53" y="404.3" font-size="9.55" font-weight="bold" text-anchor="end" fill="#050505" stroke="#050505" stroke-width="0.3">1200000</text>
<line x1="53.8" y1="415.9" x2="57.3" y2="415.9" stroke="#050505" stroke-width="1.5"/>
<text x="53" y="419" font-size="9.55" font-weight="bold" text-anchor="end" fill="#050505" stroke="#050505" stroke-width="0.3">1000000</text>
<line x1="53.8" y1="430.6" x2="57.3" y2="430.6" stroke="#050505" stroke-width="1.5"/>
<text x="53" y="433.7" font-size="9.55" font-weight="bold" text-anchor="end" fill="#050505" stroke="#050505" stroke-width="0.3">800000</text>
<line x1="53.8" y1="445.3" x2="59.9" y2="445.3" stroke="#050505" stroke-width="1.5"/>
<text x="53" y="448.4" font-size="9.55" font-weight="bold" text-anchor="end" fill="#050505" stroke="#050505" stroke-width="0.3">600000</text>
<line x1="57.3" y1="455.15" x2="57.3" y2="524.05" stroke="#050505" stroke-width="1.5"/>
<line x1="53.8" y1="455.9" x2="59.9" y2="455.9" stroke="#050505" stroke-width="1.5"/>
<text x="53" y="459" font-size="9.55" font-weight="bold" text-anchor="end" fill="#050505" stroke="#050505" stroke-width="0.3">600000</text>
<line x1="53.8" y1="478.4" x2="57.3" y2="478.4" stroke="#050505" stroke-width="1.5"/>
<text x="53" y="481.5" font-size="9.55" font-weight="bold" text-anchor="end" fill="#050505" stroke="#050505" stroke-width="0.3">400000</text>
<line x1="53.8" y1="500.8" x2="57.3" y2="500.8" stroke="#050505" stroke-width="1.5"/>
<text x="53" y="503.9" font-size="9.55" font-weight="bold" text-anchor="end" fill="#050505" stroke="#050505" stroke-width="0.3">200000</text>
<line x1="53.8" y1="523.3" x2="57.3" y2="523.3" stroke="#050505" stroke-width="1.5"/>
<text x="53" y="526.4" font-size="9.55" font-weight="bold" text-anchor="end" fill="#050505" stroke="#050505" stroke-width="0.3">0</text>
<line x1="56.65" y1="523.3" x2="227.2" y2="523.3" stroke="#050505" stroke-width="1.5"/>
<line x1="74.45" y1="523.3" x2="74.45" y2="526.7" stroke="#050505" stroke-width="1.5"/>
<text x="74.25" y="536.4" font-size="9.35" font-weight="bold" text-anchor="middle" fill="#050505" stroke="#050505" stroke-width="0.3">Spleen</text>
<line x1="68.1" y1="503.6" x2="68.1" y2="504" stroke="#050505" stroke-width="1.4"/>
<line x1="65.5" y1="503.6" x2="70.7" y2="503.6" stroke="#050505" stroke-width="1.5"/>
<line x1="80.8" y1="485" x2="80.8" y2="487.6" stroke="#050505" stroke-width="1.4"/>
<line x1="78.2" y1="485" x2="83.4" y2="485" stroke="#050505" stroke-width="1.5"/>
<rect x="64" y="504.7" width="8.2" height="18.6" fill="#fff" stroke="#050505" stroke-width="1.4"/>
<rect x="76" y="487.6" width="9.6" height="35.7" fill="#050505"/>
<polygon points="65.5,455.05 66.44,457.21 68.78,457.43 67.02,458.99 67.53,461.29 65.5,460.1 63.47,461.29 63.98,458.99 62.22,457.43 64.56,457.21" fill="#050505"/>
<polygon points="74.05,455.05 74.99,457.21 77.33,457.43 75.57,458.99 76.08,461.29 74.05,460.1 72.02,461.29 72.53,458.99 70.77,457.43 73.11,457.21" fill="#050505"/>
<polygon points="82.6,455.05 83.54,457.21 85.88,457.43 84.12,458.99 84.63,461.29 82.6,460.1 80.57,461.29 81.08,458.99 79.32,457.43 81.66,457.21" fill="#050505"/>
<line x1="68.6" y1="472" x2="79.5" y2="472" stroke="#050505" stroke-width="1.6"/>
<line x1="68.6" y1="468.1" x2="68.6" y2="475.9" stroke="#050505" stroke-width="1.6"/>
<line x1="79.5" y1="468.1" x2="79.5" y2="475.9" stroke="#050505" stroke-width="1.6"/>
<line x1="108.55" y1="523.3" x2="108.55" y2="526.7" stroke="#050505" stroke-width="1.5"/>
<text x="108.35" y="536.4" font-size="9.35" font-weight="bold" text-anchor="middle" fill="#050505" stroke="#050505" stroke-width="0.3">Lung</text>
<line x1="114.9" y1="500" x2="114.9" y2="500.6" stroke="#050505" stroke-width="1.4"/>
<line x1="112.3" y1="500" x2="117.5" y2="500" stroke="#050505" stroke-width="1.5"/>
<rect x="98.1" y="509.9" width="8.2" height="13.4" fill="#fff" stroke="#050505" stroke-width="1.4"/>
<rect x="110.1" y="500.6" width="9.6" height="22.7" fill="#050505"/>
<polygon points="99.6,472.05 100.54,474.21 102.88,474.43 101.12,475.99 101.63,478.29 99.6,477.1 97.57,478.29 98.08,475.99 96.32,474.43 98.66,474.21" fill="#050505"/>
<polygon points="108.15,472.05 109.09,474.21 111.43,474.43 109.67,475.99 110.18,478.29 108.15,477.1 106.12,478.29 106.63,475.99 104.87,474.43 107.21,474.21" fill="#050505"/>
<polygon points="116.7,472.05 117.64,474.21 119.98,474.43 118.22,475.99 118.73,478.29 116.7,477.1 114.67,478.29 115.18,475.99 113.42,474.43 115.76,474.21" fill="#050505"/>
<line x1="102.7" y1="487.3" x2="113.6" y2="487.3" stroke="#050505" stroke-width="1.6"/>
<line x1="102.7" y1="483.4" x2="102.7" y2="491.2" stroke="#050505" stroke-width="1.6"/>
<line x1="113.6" y1="483.4" x2="113.6" y2="491.2" stroke="#050505" stroke-width="1.6"/>
<line x1="142.65" y1="523.3" x2="142.65" y2="526.7" stroke="#050505" stroke-width="1.5"/>
<text x="142.45" y="536.4" font-size="9.35" font-weight="bold" text-anchor="middle" fill="#050505" stroke="#050505" stroke-width="0.3">Liver</text>
<line x1="149" y1="465.4" x2="149" y2="467.3" stroke="#050505" stroke-width="1.4"/>
<line x1="146.4" y1="465.4" x2="151.6" y2="465.4" stroke="#050505" stroke-width="1.5"/>
<rect x="132.2" y="499" width="8.2" height="24.3" fill="#fff" stroke="#050505" stroke-width="1.4"/>
<rect x="144.2" y="467.3" width="9.6" height="56" fill="#050505"/>
<polygon points="133.7,438.25 134.64,440.41 136.98,440.63 135.22,442.19 135.73,444.49 133.7,443.3 131.67,444.49 132.18,442.19 130.42,440.63 132.76,440.41" fill="#050505"/>
<polygon points="142.25,438.25 143.19,440.41 145.53,440.63 143.77,442.19 144.28,444.49 142.25,443.3 140.22,444.49 140.73,442.19 138.97,440.63 141.31,440.41" fill="#050505"/>
<polygon points="150.8,438.25 151.74,440.41 154.08,440.63 152.32,442.19 152.83,444.49 150.8,443.3 148.77,444.49 149.28,442.19 147.52,440.63 149.86,440.41" fill="#050505"/>
<line x1="136.8" y1="454.4" x2="147.7" y2="454.4" stroke="#050505" stroke-width="1.6"/>
<line x1="136.8" y1="450.5" x2="136.8" y2="458.3" stroke="#050505" stroke-width="1.6"/>
<line x1="147.7" y1="450.5" x2="147.7" y2="458.3" stroke="#050505" stroke-width="1.6"/>
<line x1="176.75" y1="523.3" x2="176.75" y2="526.7" stroke="#050505" stroke-width="1.5"/>
<text x="176.55" y="536.4" font-size="9.35" font-weight="bold" text-anchor="middle" fill="#050505" stroke="#050505" stroke-width="0.3">Colon</text>
<line x1="170.4" y1="504.8" x2="170.4" y2="505.2" stroke="#050505" stroke-width="1.4"/>
<line x1="167.8" y1="504.8" x2="173" y2="504.8" stroke="#050505" stroke-width="1.5"/>
<line x1="183.1" y1="472.5" x2="183.1" y2="474.6" stroke="#050505" stroke-width="1.4"/>
<line x1="180.5" y1="472.5" x2="185.7" y2="472.5" stroke="#050505" stroke-width="1.5"/>
<rect x="166.3" y="505.9" width="8.2" height="17.4" fill="#fff" stroke="#050505" stroke-width="1.4"/>
<rect x="178.3" y="474.6" width="9.6" height="48.7" fill="#050505"/>
<polygon points="167.8,444.65 168.74,446.81 171.08,447.03 169.32,448.59 169.83,450.89 167.8,449.7 165.77,450.89 166.28,448.59 164.52,447.03 166.86,446.81" fill="#050505"/>
<polygon points="176.35,444.65 177.29,446.81 179.63,447.03 177.87,448.59 178.38,450.89 176.35,449.7 174.32,450.89 174.83,448.59 173.07,447.03 175.41,446.81" fill="#050505"/>
<polygon points="184.9,444.65 185.84,446.81 188.18,447.03 186.42,448.59 186.93,450.89 184.9,449.7 182.87,450.89 183.38,448.59 181.62,447.03 183.96,446.81" fill="#050505"/>
<line x1="170.9" y1="460.8" x2="181.8" y2="460.8" stroke="#050505" stroke-width="1.6"/>
<line x1="170.9" y1="456.9" x2="170.9" y2="464.7" stroke="#050505" stroke-width="1.6"/>
<line x1="181.8" y1="456.9" x2="181.8" y2="464.7" stroke="#050505" stroke-width="1.6"/>
<line x1="210.85" y1="523.3" x2="210.85" y2="526.7" stroke="#050505" stroke-width="1.5"/>
<text x="210.65" y="536.4" font-size="9.35" font-weight="bold" text-anchor="middle" fill="#050505" stroke="#050505" stroke-width="0.3">Ileum</text>
<line x1="217.2" y1="499.2" x2="217.2" y2="499.7" stroke="#050505" stroke-width="1.4"/>
<line x1="214.6" y1="499.2" x2="219.8" y2="499.2" stroke="#050505" stroke-width="1.5"/>
<rect x="200.4" y="509.6" width="8.2" height="13.7" fill="#fff" stroke="#050505" stroke-width="1.4"/>
<rect x="212.4" y="499.7" width="9.6" height="23.6" fill="#050505"/>
<polygon points="201.9,469.45 202.84,471.61 205.18,471.83 203.42,473.39 203.93,475.69 201.9,474.5 199.87,475.69 200.38,473.39 198.62,471.83 200.96,471.61" fill="#050505"/>
<polygon points="210.45,469.45 211.39,471.61 213.73,471.83 211.97,473.39 212.48,475.69 210.45,474.5 208.42,475.69 208.93,473.39 207.17,471.83 209.51,471.61" fill="#050505"/>
<polygon points="219,469.45 219.94,471.61 222.28,471.83 220.52,473.39 221.03,475.69 219,474.5 216.97,475.69 217.48,473.39 215.72,471.83 218.06,471.61" fill="#050505"/>
<line x1="205" y1="486.4" x2="215.9" y2="486.4" stroke="#050505" stroke-width="1.6"/>
<line x1="205" y1="482.5" x2="205" y2="490.3" stroke="#050505" stroke-width="1.6"/>
<line x1="215.9" y1="482.5" x2="215.9" y2="490.3" stroke="#050505" stroke-width="1.6"/>
<text x="69.6" y="380.3" font-size="11.5" font-weight="bold" text-anchor="start" fill="#050505" stroke="#050505" stroke-width="0.3" textLength="125.1" lengthAdjust="spacingAndGlyphs">PD-L1 intensity (day 21)</text>
<text transform="translate(8.7 510.9) rotate(-90)" font-size="10.9" font-weight="bold" stroke="#050505" stroke-width="0.2" fill="#050505" textLength="101.5" lengthAdjust="spacingAndGlyphs">Integrated density</text>
<text x="3" y="380.8" font-size="10.8" font-weight="bold" text-anchor="start" fill="#050505" stroke="#050505" stroke-width="0.3">C</text>
<rect x="208.5" y="396.9" width="13" height="7.6" fill="#fff" stroke="#050505" stroke-width="1.4"/>
<rect x="207.8" y="410.4" width="14.4" height="9.3" fill="#050505"/>
<text x="228" y="403.7" font-size="10" font-weight="normal" text-anchor="start" fill="#050505" textLength="33.2" lengthAdjust="spacingAndGlyphs" stroke="#050505" stroke-width="0.2">BM only</text>
<text x="228" y="418.3" font-size="10" font-weight="normal" text-anchor="start" fill="#050505" textLength="28.9" lengthAdjust="spacingAndGlyphs" stroke="#050505" stroke-width="0.2">BM + T</text>
<line x1="347.5" y1="399.65" x2="347.5" y2="524.05" stroke="#050505" stroke-width="1.5"/>
<line x1="344" y1="400.4" x2="347.5" y2="400.4" stroke="#050505" stroke-width="1.5"/>
<text x="343.2" y="403.5" font-size="9.55" font-weight="bold" text-anchor="end" fill="#050505" stroke="#050505" stroke-width="0.3">600000</text>
<line x1="344" y1="431.1" x2="347.5" y2="431.1" stroke="#050505" stroke-width="1.5"/>
<text x="343.2" y="434.2" font-size="9.55" font-weight="bold" text-anchor="end" fill="#050505" stroke="#050505" stroke-width="0.3">450000</text>
<line x1="344" y1="461.85" x2="347.5" y2="461.85" stroke="#050505" stroke-width="1.5"/>
<text x="343.2" y="464.95" font-size="9.55" font-weight="bold" text-anchor="end" fill="#050505" stroke="#050505" stroke-width="0.3">300000</text>
<line x1="344" y1="492.6" x2="347.5" y2="492.6" stroke="#050505" stroke-width="1.5"/>
<text x="343.2" y="495.7" font-size="9.55" font-weight="bold" text-anchor="end" fill="#050505" stroke="#050505" stroke-width="0.3">150000</text>
<line x1="344" y1="523.3" x2="347.5" y2="523.3" stroke="#050505" stroke-width="1.5"/>
<text x="343.2" y="526.4" font-size="9.55" font-weight="bold" text-anchor="end" fill="#050505" stroke="#050505" stroke-width="0.3">0</text>
<line x1="346.85" y1="523.3" x2="519.3" y2="523.3" stroke="#050505" stroke-width="1.5"/>
<line x1="364.85" y1="523.3" x2="364.85" y2="526.7" stroke="#050505" stroke-width="1.5"/>
<text x="364.65" y="536.4" font-size="9.35" font-weight="bold" text-anchor="middle" fill="#050505" stroke="#050505" stroke-width="0.3">Spleen</text>
<line x1="358.5" y1="495.8" x2="358.5" y2="496.2" stroke="#050505" stroke-width="1.4"/>
<line x1="355.9" y1="495.8" x2="361.1" y2="495.8" stroke="#050505" stroke-width="1.5"/>
<line x1="371.2" y1="476" x2="371.2" y2="480.7" stroke="#050505" stroke-width="1.4"/>
<line x1="368.6" y1="476" x2="373.8" y2="476" stroke="#050505" stroke-width="1.5"/>
<rect x="354.4" y="496.9" width="8.2" height="26.4" fill="#fff" stroke="#050505" stroke-width="1.4"/>
<rect x="366.4" y="480.7" width="9.6" height="42.6" fill="#050505"/>
<polygon points="359.78,445.55 360.72,447.71 363.06,447.93 361.3,449.49 361.8,451.79 359.78,450.6 357.75,451.79 358.25,449.49 356.49,447.93 358.83,447.71" fill="#050505"/>
<polygon points="368.33,445.55 369.27,447.71 371.61,447.93 369.85,449.49 370.35,451.79 368.33,450.6 366.3,451.79 366.8,449.49 365.04,447.93 367.38,447.71" fill="#050505"/>
<line x1="358.6" y1="462.5" x2="369.5" y2="462.5" stroke="#050505" stroke-width="1.6"/>
<line x1="358.6" y1="458.6" x2="358.6" y2="466.4" stroke="#050505" stroke-width="1.6"/>
<line x1="369.5" y1="458.6" x2="369.5" y2="466.4" stroke="#050505" stroke-width="1.6"/>
<line x1="399.05" y1="523.3" x2="399.05" y2="526.7" stroke="#050505" stroke-width="1.5"/>
<text x="398.85" y="536.4" font-size="9.35" font-weight="bold" text-anchor="middle" fill="#050505" stroke="#050505" stroke-width="0.3">Lung</text>
<line x1="392.7" y1="501.1" x2="392.7" y2="503.7" stroke="#050505" stroke-width="1.4"/>
<line x1="390.1" y1="501.1" x2="395.3" y2="501.1" stroke="#050505" stroke-width="1.5"/>
<line x1="405.4" y1="497.1" x2="405.4" y2="498.8" stroke="#050505" stroke-width="1.4"/>
<line x1="402.8" y1="497.1" x2="408" y2="497.1" stroke="#050505" stroke-width="1.5"/>
<rect x="388.6" y="504.4" width="8.2" height="18.9" fill="#fff" stroke="#050505" stroke-width="1.4"/>
<rect x="400.6" y="498.8" width="9.6" height="24.5" fill="#050505"/>
<line x1="433.25" y1="523.3" x2="433.25" y2="526.7" stroke="#050505" stroke-width="1.5"/>
<text x="433.05" y="536.4" font-size="9.35" font-weight="bold" text-anchor="middle" fill="#050505" stroke="#050505" stroke-width="0.3">Liver</text>
<line x1="426.9" y1="473.4" x2="426.9" y2="477.6" stroke="#050505" stroke-width="1.4"/>
<line x1="424.3" y1="473.4" x2="429.5" y2="473.4" stroke="#050505" stroke-width="1.5"/>
<line x1="439.6" y1="443.5" x2="439.6" y2="446.4" stroke="#050505" stroke-width="1.4"/>
<line x1="437" y1="443.5" x2="442.2" y2="443.5" stroke="#050505" stroke-width="1.5"/>
<rect x="422.8" y="478.3" width="8.2" height="45" fill="#fff" stroke="#050505" stroke-width="1.4"/>
<rect x="434.8" y="446.4" width="9.6" height="76.9" fill="#050505"/>
<polygon points="425.2,412.65 426.14,414.81 428.48,415.03 426.72,416.59 427.23,418.89 425.2,417.7 423.17,418.89 423.68,416.59 421.92,415.03 424.26,414.81" fill="#050505"/>
<polygon points="433.75,412.65 434.69,414.81 437.03,415.03 435.27,416.59 435.78,418.89 433.75,417.7 431.72,418.89 432.23,416.59 430.47,415.03 432.81,414.81" fill="#050505"/>
<polygon points="442.3,412.65 443.24,414.81 445.58,415.03 443.82,416.59 444.33,418.89 442.3,417.7 440.27,418.89 440.78,416.59 439.02,415.03 441.36,414.81" fill="#050505"/>
<line x1="428.3" y1="429.3" x2="439.2" y2="429.3" stroke="#050505" stroke-width="1.6"/>
<line x1="428.3" y1="425.4" x2="428.3" y2="433.2" stroke="#050505" stroke-width="1.6"/>
<line x1="439.2" y1="425.4" x2="439.2" y2="433.2" stroke="#050505" stroke-width="1.6"/>
<line x1="467.45" y1="523.3" x2="467.45" y2="526.7" stroke="#050505" stroke-width="1.5"/>
<text x="467.25" y="536.4" font-size="9.35" font-weight="bold" text-anchor="middle" fill="#050505" stroke="#050505" stroke-width="0.3">Colon</text>
<line x1="461.1" y1="491.9" x2="461.1" y2="495.7" stroke="#050505" stroke-width="1.4"/>
<line x1="458.5" y1="491.9" x2="463.7" y2="491.9" stroke="#050505" stroke-width="1.5"/>
<line x1="473.8" y1="445.5" x2="473.8" y2="449.9" stroke="#050505" stroke-width="1.4"/>
<line x1="471.2" y1="445.5" x2="476.4" y2="445.5" stroke="#050505" stroke-width="1.5"/>
<rect x="457" y="496.4" width="8.2" height="26.9" fill="#fff" stroke="#050505" stroke-width="1.4"/>
<rect x="469" y="449.9" width="9.6" height="73.4" fill="#050505"/>
<polygon points="458.5,417.75 459.44,419.91 461.78,420.13 460.02,421.69 460.53,423.99 458.5,422.8 456.47,423.99 456.98,421.69 455.22,420.13 457.56,419.91" fill="#050505"/>
<polygon points="467.05,417.75 467.99,419.91 470.33,420.13 468.57,421.69 469.08,423.99 467.05,422.8 465.02,423.99 465.53,421.69 463.77,420.13 466.11,419.91" fill="#050505"/>
<polygon points="475.6,417.75 476.54,419.91 478.88,420.13 477.12,421.69 477.63,423.99 475.6,422.8 473.57,423.99 474.08,421.69 472.32,420.13 474.66,419.91" fill="#050505"/>
<line x1="461.6" y1="432.7" x2="472.5" y2="432.7" stroke="#050505" stroke-width="1.6"/>
<line x1="461.6" y1="428.8" x2="461.6" y2="436.6" stroke="#050505" stroke-width="1.6"/>
<line x1="472.5" y1="428.8" x2="472.5" y2="436.6" stroke="#050505" stroke-width="1.6"/>
<line x1="501.65" y1="523.3" x2="501.65" y2="526.7" stroke="#050505" stroke-width="1.5"/>
<text x="501.45" y="536.4" font-size="9.35" font-weight="bold" text-anchor="middle" fill="#050505" stroke="#050505" stroke-width="0.3">Ileum</text>
<line x1="495.3" y1="499.7" x2="495.3" y2="501.1" stroke="#050505" stroke-width="1.4"/>
<line x1="492.7" y1="499.7" x2="497.9" y2="499.7" stroke="#050505" stroke-width="1.5"/>
<line x1="508" y1="484.5" x2="508" y2="485.9" stroke="#050505" stroke-width="1.4"/>
<line x1="505.4" y1="484.5" x2="510.6" y2="484.5" stroke="#050505" stroke-width="1.5"/>
<rect x="491.2" y="501.8" width="8.2" height="21.5" fill="#fff" stroke="#050505" stroke-width="1.4"/>
<rect x="503.2" y="485.9" width="9.6" height="37.4" fill="#050505"/>
<polygon points="492.7,455.95 493.64,458.11 495.98,458.33 494.22,459.89 494.73,462.19 492.7,461 490.67,462.19 491.18,459.89 489.42,458.33 491.76,458.11" fill="#050505"/>
<polygon points="501.25,455.95 502.19,458.11 504.53,458.33 502.77,459.89 503.28,462.19 501.25,461 499.22,462.19 499.73,459.89 497.97,458.33 500.31,458.11" fill="#050505"/>
<polygon points="509.8,455.95 510.74,458.11 513.08,458.33 511.32,459.89 511.83,462.19 509.8,461 507.77,462.19 508.28,459.89 506.52,458.33 508.86,458.11" fill="#050505"/>
<line x1="495.8" y1="471.7" x2="506.7" y2="471.7" stroke="#050505" stroke-width="1.6"/>
<line x1="495.8" y1="467.8" x2="495.8" y2="475.6" stroke="#050505" stroke-width="1.6"/>
<line x1="506.7" y1="467.8" x2="506.7" y2="475.6" stroke="#050505" stroke-width="1.6"/>
<text x="363.8" y="380" font-size="11.5" font-weight="bold" text-anchor="start" fill="#050505" stroke="#050505" stroke-width="0.3" textLength="126" lengthAdjust="spacingAndGlyphs">PD-L2 intensity (day 21)</text>
<text transform="translate(300.6 510.9) rotate(-90)" font-size="10.9" font-weight="bold" stroke="#050505" stroke-width="0.2" fill="#050505" textLength="102.2" lengthAdjust="spacingAndGlyphs">Integrated density</text>
</svg>
</body>
</html>
